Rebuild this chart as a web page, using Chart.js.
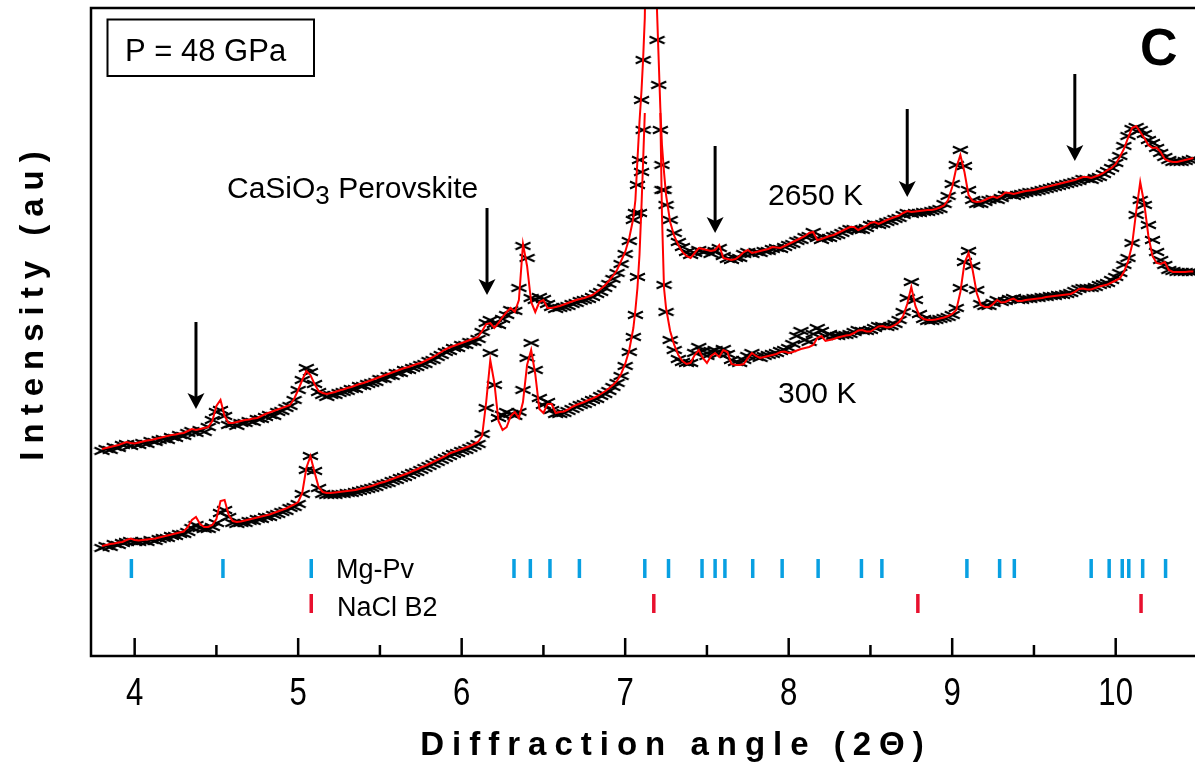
<!DOCTYPE html>
<html>
<head>
<meta charset="utf-8">
<title>XRD pattern, P = 48 GPa</title>
<style>
  html, body { margin: 0; padding: 0; background: #fff; overflow: hidden; }
  #wrap { width: 1195px; height: 763px; position: relative; }
  #xrd { display: block; }
</style>
</head>
<body>
<div id="wrap"><canvas id="xrd"></canvas></div>
<script src="https://cdn.jsdelivr.net/npm/chart.js@4.4.1/dist/chart.umd.min.js"></script>
<script>
// scan angles (2 theta, degrees), denser across the main peak
const twoTheta = [
  3.8, 3.825, 3.85, 3.875, 3.9, 3.925, 3.95, 3.975, 4, 4.025,
  4.05, 4.075, 4.1, 4.125, 4.15, 4.175, 4.2, 4.225, 4.25, 4.275,
  4.3, 4.325, 4.35, 4.375, 4.4, 4.425, 4.45, 4.475, 4.5, 4.525,
  4.55, 4.575, 4.6, 4.625, 4.65, 4.675, 4.7, 4.725, 4.75, 4.775,
  4.8, 4.825, 4.85, 4.875, 4.9, 4.925, 4.95, 4.975, 5, 5.025,
  5.05, 5.075, 5.1, 5.125, 5.15, 5.175, 5.2, 5.225, 5.25, 5.275,
  5.3, 5.325, 5.35, 5.375, 5.4, 5.425, 5.45, 5.475, 5.5, 5.525,
  5.55, 5.575, 5.6, 5.625, 5.65, 5.675, 5.7, 5.725, 5.75, 5.775,
  5.8, 5.825, 5.85, 5.875, 5.9, 5.925, 5.95, 5.975, 6, 6.025,
  6.05, 6.075, 6.1, 6.125, 6.15, 6.175, 6.2, 6.225, 6.25, 6.275,
  6.3, 6.325, 6.35, 6.375, 6.4, 6.425, 6.45, 6.475, 6.5, 6.525,
  6.55, 6.575, 6.6, 6.625, 6.65, 6.675, 6.7, 6.725, 6.75, 6.775,
  6.8, 6.825, 6.85, 6.875, 6.9, 6.925, 6.95, 6.975, 7, 7.025,
  7.05,
  7.0625, 7.075, 7.0875, 7.1, 7.11, 7.12, 7.135, 7.15, 7.165, 7.18, 7.195, 7.205, 7.215, 7.225, 7.2375, 7.25,
  7.275, 7.3, 7.325, 7.35, 7.375, 7.4, 7.425, 7.45, 7.475, 7.5,
  7.525, 7.55, 7.575, 7.6, 7.625, 7.65, 7.675, 7.7, 7.725, 7.75,
  7.775, 7.8, 7.825, 7.85, 7.875, 7.9, 7.925, 7.95, 7.975, 8,
  8.025, 8.05, 8.075, 8.1, 8.125, 8.15, 8.175, 8.2, 8.225, 8.25,
  8.275, 8.3, 8.325, 8.35, 8.375, 8.4, 8.425, 8.45, 8.475, 8.5,
  8.525, 8.55, 8.575, 8.6, 8.625, 8.65, 8.675, 8.7, 8.725, 8.75,
  8.775, 8.8, 8.825, 8.85, 8.875, 8.9, 8.925, 8.95, 8.975, 9,
  9.025, 9.05, 9.075, 9.1, 9.125, 9.15, 9.175, 9.2, 9.225, 9.25,
  9.275, 9.3, 9.325, 9.35, 9.375, 9.4, 9.425, 9.45, 9.475, 9.5,
  9.525, 9.55, 9.575, 9.6, 9.625, 9.65, 9.675, 9.7, 9.725, 9.75,
  9.775, 9.8, 9.825, 9.85, 9.875, 9.9, 9.925, 9.95, 9.975, 10,
  10.025, 10.05, 10.075, 10.1, 10.125, 10.15, 10.175, 10.2, 10.225, 10.25,
  10.275, 10.3, 10.325, 10.35, 10.375, 10.4, 10.425, 10.45, 10.475
];

// 2650 K pattern (offset upwards), measured points and fitted profile
const obs2650 = [
  205, 207, 206, 209, 208, 211, 212, 210, 212, 211,
  213, 212, 215, 214, 216, 217, 216, 219, 218, 221,
  220, 223, 225, 223, 226, 224, 229, 236, 244, 246,
  240, 231, 232, 230, 233, 233, 235, 234, 237, 237,
  239, 241, 240, 244, 245, 248, 250, 256, 266, 276,
  288, 284, 272, 264, 261, 259, 261, 261, 263, 264,
  265, 267, 267, 270, 270, 272, 273, 274, 277, 277,
  280, 280, 283, 283, 286, 286, 288, 289, 291, 292,
  295, 296, 299, 301, 304, 305, 308, 308, 311, 311,
  314, 314, 317, 324, 333, 336, 332, 331, 337, 341,
  346, 345, 368, 410, 398, 358, 356, 359, 357, 352,
  349, 347, 348, 349, 350, 352, 353, 355, 356, 357,
  359, 362, 364, 368, 372, 377, 383, 392, 402, 415,
  436,
  443, 471, 496, 556, 596, 700, 850, 900, 900, 850, 616, 571, 526, 491, 466, 451,
  436, 423, 414, 409, 404, 401, 403, 406, 404, 405,
  402, 405, 408, 400, 397, 396, 398, 398, 402, 404,
  402, 404, 403, 405, 405, 407, 408, 407, 409, 411,
  412, 415, 416, 419, 420, 424, 418, 416, 418, 418,
  420, 421, 423, 425, 427, 427, 426, 426, 428, 431,
  432, 431, 432, 434, 435, 437, 438, 441, 443, 442,
  443, 443, 444, 444, 445, 446, 447, 452, 460, 472,
  491, 506, 490, 466, 456, 452, 452, 454, 456, 457,
  456, 458, 461, 461, 460, 461, 462, 463, 464, 464,
  465, 466, 467, 468, 469, 470, 471, 472, 473, 474,
  475, 477, 477, 476, 478, 479, 482, 485, 488, 493,
  500, 510, 520, 527, 529, 526, 522, 516, 513, 508,
  503, 499, 496, 494, 494, 494, 495, 496, 497
];
const fit2650 = [
  207, 208, 209, 210, 211, 212.5, 214, 213, 212.5, 213.5,
  214.5, 215.5, 216, 217, 218, 219, 220, 221, 221.5, 222.5,
  223, 225, 227, 226, 227, 228, 229, 235, 250, 256,
  240, 233, 233, 234, 235, 236, 236.5, 237.5, 238, 240,
  242, 243.5, 245, 246.5, 248, 249.5, 251, 257, 266, 276,
  285, 281, 272, 265, 263, 262, 263, 264, 265.5, 266.5,
  268, 269, 270.5, 272, 273, 274.5, 276, 277.5, 279, 280.5,
  282, 283.5, 285, 286.5, 288, 289, 290.5, 292, 293, 295,
  297, 299, 301.5, 304, 306.5, 308.5, 310, 311.5, 313, 314.5,
  316, 317.5, 319, 325, 332, 333, 328, 333, 339, 344,
  348, 344, 356, 412, 390, 354, 344, 354, 356, 348,
  348, 349, 350, 351.5, 353, 354.5, 356, 357, 358, 359.5,
  361, 364, 367, 370.5, 375, 380, 386, 395, 404, 418,
  438,
  456, 496, 534, 566, 598, 638, 806, 956, 956, 806, 644, 596, 548, 511, 484, 461,
  434, 420, 411, 404, 400, 398, 403, 408, 407, 406,
  405, 406, 411, 398, 397, 396, 397, 400, 404, 406,
  403, 404, 405, 406, 407, 409, 408.5, 408, 410, 412,
  414, 416, 418, 420, 423, 424, 416, 417, 418.5, 420,
  421, 423, 425, 427, 429, 429, 426, 428, 430, 433,
  434, 432, 434, 436, 437.5, 439, 440.5, 443, 445, 444,
  444.5, 445, 445.5, 446, 446, 447, 448.5, 450.5, 456, 469,
  488, 501, 484, 461, 455, 454, 454.5, 456, 458, 459.5,
  458, 460, 463.5, 463, 462, 463, 464, 465, 465.5, 466,
  467, 468, 469, 470, 471, 472, 473, 474, 475, 476,
  477.5, 479, 479, 478, 479.5, 481, 483, 486, 488, 492,
  499, 507, 518, 528, 530, 524, 518, 511, 508, 508.5,
  504, 497, 495, 494, 494, 495, 496, 497, 498
];

// 300 K pattern, measured points and fitted profile (main peak off scale)
const obs300 = [
  108, 110, 109, 112, 111, 113, 114, 115, 114, 114,
  115, 114, 116, 115, 117, 118, 118, 120, 120, 122,
  122, 124, 128, 131, 128, 127, 127, 129, 133, 143,
  146, 139, 133, 132, 133, 133, 135, 135, 137, 137,
  139, 139, 141, 142, 144, 145, 148, 149, 152, 162,
  186, 200, 185, 168, 162, 161, 161, 161, 162, 162,
  163, 163, 164, 165, 166, 167, 168, 169, 171, 172,
  173, 175, 176, 178, 179, 181, 183, 184, 186, 188,
  190, 192, 194, 196, 198, 200, 202, 203, 205, 206,
  208, 210, 212, 222, 248, 303, 271, 238, 241, 244,
  242, 240, 244, 266, 298, 313, 286, 258, 251, 254,
  246, 242, 242, 243, 245, 247, 249, 251, 252, 254,
  256, 257, 260, 262, 265, 269, 273, 280, 290, 304,
  319,
  341, 379, 443, 484, 526, null, null, null, null, null, null, null, null, 466, 371, 344,
  316, 306, 297, 294, 293, 293, 303, 309, 305, 300,
  305, 306, 302, 307, 302, 296, 294, 293, 296, 300,
  303, 299, 298, 300, 301, 302, 303, 305, 306, 308,
  312, 320, 325, 316, 314, 322, 328, 325, 320, 322,
  320, 320, 321, 321, 322, 324, 326, 325, 325, 326,
  328, 330, 330, 329, 330, 332, 336, 344, 358, 374,
  356, 342, 337, 335, 335, 336, 337, 338, 339, 341,
  348, 368, 394, 405, 390, 366, 352, 350, 350, 353,
  356, 354, 355, 357, 358, 356, 356, 357, 357, 358,
  358, 359, 359, 360, 360, 361, 361, 362, 363, 365,
  367, 368, 368, 368, 369, 371, 372, 373, 376, 379,
  383, 391, 398, 413, 441, 456, 451, 431, 416, 404,
  396, 391, 386, 385, 384, 384, 384, 384, 384
];
const fit300 = [
  110, 111, 112, 112.5, 113.5, 114, 116, 117.5, 116, 115.5,
  116, 116.5, 117, 117.5, 118.5, 119.5, 120.5, 121.5, 122.5, 123.5,
  124.5, 129, 136, 139, 132, 129, 129, 131, 137, 155,
  156, 141, 135, 134, 134.5, 135.5, 136.5, 137.5, 138.5, 139.5,
  140.5, 141.5, 143, 144.5, 146, 147.5, 149.5, 151.5, 154, 163,
  188, 200, 184, 169, 164, 163, 163, 163.5, 164, 164.5,
  165, 165.5, 166, 167, 168, 169, 170, 171.5, 173, 174,
  175.5, 177, 178.5, 180, 181.5, 183, 185, 186.5, 188.5, 190,
  192, 194, 196, 198, 200, 202.5, 204, 205.5, 207, 208.5,
  210, 212, 214, 220, 254, 296, 273, 235, 226, 229,
  240, 244, 238, 254, 291, 306, 282, 247, 243, 252,
  252, 243, 244, 244.5, 246.5, 249, 251, 252.5, 254, 256,
  257.5, 259.5, 262, 264.5, 267.5, 271, 275, 282, 292, 306,
  328,
  346, 368, 401, 451, 496, 543, null, null, null, null, null, null, 543, 441, 368, 348,
  325, 311, 301, 295, 292, 293, 301, 306, 298, 293,
  300, 303, 299, 306, 304, 292, 291, 291, 292, 298,
  303, 300, 298, 299, 300, 301, 302, 304, 304.5, 303,
  304, 305.5, 307, 308, 309, 311, 318, 320, 315, 316,
  317, 318.5, 319.5, 320.5, 321, 323, 325.5, 326, 324.5, 324.5,
  327, 329.5, 330, 328.5, 329, 331, 334, 340, 352, 369,
  350, 340, 337, 336, 336, 336.5, 337.5, 338.5, 340, 342,
  346, 364, 393, 403, 386, 363, 351, 349, 349, 352,
  356, 353.5, 354, 356, 357.5, 355, 355, 356, 356.5, 357,
  357.5, 358, 359, 359.5, 360, 360.5, 361, 361.5, 362, 364,
  367, 367.5, 366.5, 366.5, 368, 369.5, 370.5, 371.5, 373.5, 375.5,
  377.5, 384, 394, 411, 444, 474, 452, 420, 400, 393,
  392, 394, 386, 384, 384, 384, 384, 384.5, 384.5
];

// calculated reflection positions
const mgPvPeaks = [3.98, 4.54, 5.08, 6.32, 6.42, 6.54, 6.72, 7.12, 7.265, 7.47, 7.55, 7.61, 7.78, 7.96,
  8.18, 8.445, 8.57, 9.09, 9.29, 9.38, 9.85, 9.96, 10.04, 10.08, 10.165, 10.305];
const naclPeaks = [5.08, 7.175, 8.79, 10.155];
const mgPvLevel = 87.5;
const naclLevel = 52.5;

// arrows marking CaSiO3 perovskite lines
const arrowAngles = [4.375, 6.155, 7.55, 8.725, 9.75];
const arrowTops = [334, 448, 510, 547, 582];
const arrowTips = [247, 361, 423, 459, 495];

const angleTicks = [4, 5, 6, 7, 8, 9, 10];

if (twoTheta.length !== obs2650.length || twoTheta.length !== fit300.length) {
  console.warn('length mismatch', twoTheta.length, obs2650.length, fit2650.length, obs300.length, fit300.length);
}

const FONT = '"Liberation Sans", Arial, Helvetica, sans-serif';
Chart.defaults.font.family = FONT;

// wide x marker used for the measured points
const crossMark = document.createElement('canvas');
crossMark.width = 17;
crossMark.height = 10;
(function () {
  const c = crossMark.getContext('2d');
  c.strokeStyle = '#000';
  c.lineWidth = 2;
  c.beginPath();
  c.moveTo(1, 1.5); c.lineTo(16, 8.5);
  c.moveTo(1, 8.5); c.lineTo(16, 1.5);
  c.stroke();
})();

const toPoints = ys => twoTheta.map((x, i) => ({ x: x, y: ys[i] }));

function spacedText(ctx, text, cx, y, spacing) {
  ctx.letterSpacing = spacing + 'px';
  const w = ctx.measureText(text).width;
  ctx.textAlign = 'left';
  ctx.fillText(text, cx - (w - spacing) / 2, y);
  ctx.letterSpacing = '0px';
}

const decor = {
  id: 'decor',
  afterDatasetsDraw(chart) {
    const { ctx, scales: { x, y } } = chart;
    ctx.save();
    ctx.strokeStyle = '#000';
    ctx.fillStyle = '#000';
    ctx.lineWidth = 3;
    arrowAngles.forEach((ang, i) => {
      const px = x.getPixelForValue(ang);
      const top = y.getPixelForValue(arrowTops[i]);
      const tip = y.getPixelForValue(arrowTips[i]);
      ctx.beginPath();
      ctx.moveTo(px, top);
      ctx.lineTo(px, tip - 10);
      ctx.stroke();
      ctx.beginPath();
      ctx.moveTo(px, tip);
      ctx.lineTo(px - 8.5, tip - 16);
      ctx.lineTo(px, tip - 12);
      ctx.lineTo(px + 8.5, tip - 16);
      ctx.closePath();
      ctx.fill();
    });
    ctx.restore();
  },
  afterDraw(chart) {
    const { ctx, chartArea: a, scales: { x } } = chart;
    ctx.save();
    ctx.strokeStyle = '#000';
    ctx.fillStyle = '#000';

    // frame: top, left and bottom
    ctx.lineWidth = 2.5;
    ctx.beginPath();
    ctx.moveTo(a.right, a.top);
    ctx.lineTo(a.left, a.top);
    ctx.lineTo(a.left, a.bottom);
    ctx.lineTo(a.right, a.bottom);
    ctx.stroke();

    // inward ticks, major at integers and minor half way
    const majors = x.ticks.map(t => t.value);
    ctx.beginPath();
    majors.forEach((v, i) => {
      const px = x.getPixelForValue(v);
      ctx.moveTo(px, a.bottom);
      ctx.lineTo(px, a.bottom - 18);
      if (i > 0) {
        const mx = x.getPixelForValue((v + majors[i - 1]) / 2);
        ctx.moveTo(mx, a.bottom);
        ctx.lineTo(mx, a.bottom - 11);
      }
    });
    ctx.stroke();

    // tick labels in a narrow face
    ctx.font = '38px ' + FONT;
    ctx.textAlign = 'center';
    ctx.textBaseline = 'alphabetic';
    x.ticks.forEach(t => {
      ctx.save();
      ctx.translate(x.getPixelForValue(t.value), 705);
      ctx.scale(0.82, 1);
      ctx.fillText(String(t.value), 0, 0);
      ctx.restore();
    });

    // axis titles
    ctx.font = 'bold 33px ' + FONT;
    spacedText(ctx, 'Diffraction angle (2\u0398)', 672, 755, 8);
    ctx.save();
    ctx.translate(43, 306);
    ctx.rotate(-Math.PI / 2);
    spacedText(ctx, 'Intensity (au)', 0, 0, 8);
    ctx.restore();

    // pressure box and panel letter
    ctx.textAlign = 'left';
    ctx.lineWidth = 2;
    ctx.strokeRect(107.5, 19.5, 206.5, 56.5);
    ctx.font = '31px ' + FONT;
    ctx.fillText('P = 48 GPa', 125, 61);
    ctx.font = 'bold 52px ' + FONT;
    ctx.fillText('C', 1140, 65);

    // curve labels
    ctx.font = '30px ' + FONT;
    ctx.fillText('2650 K', 768, 205);
    ctx.fillText('300 K', 778, 403);
    let cx = 227;
    ctx.fillText('CaSiO', cx, 198);
    cx += ctx.measureText('CaSiO').width;
    ctx.font = '26px ' + FONT;
    ctx.fillText('3', cx, 204);
    cx += ctx.measureText('3').width;
    ctx.font = '30px ' + FONT;
    ctx.fillText(' Perovskite', cx, 198);

    ctx.font = '27px ' + FONT;
    ctx.fillText('Mg-Pv', 336, 578);
    ctx.fillText('NaCl B2', 337, 616);
    ctx.restore();
  }
};

new Chart(document.getElementById('xrd'), {
  type: 'scatter',
  data: {
    datasets: [
      {
        label: '2650 K fit',
        data: toPoints(fit2650),
        showLine: true,
        borderColor: '#ff0000',
        borderWidth: 2,
        pointRadius: 0,
        spanGaps: false,
        clip: 0,
        order: 0
      },
      {
        label: '300 K fit',
        data: toPoints(fit300),
        showLine: true,
        borderColor: '#ff0000',
        borderWidth: 2,
        pointRadius: 0,
        spanGaps: false,
        clip: 0,
        order: 1
      },
      {
        label: '2650 K data',
        data: toPoints(obs2650),
        showLine: false,
        pointStyle: crossMark,
        pointRadius: 4,
        clip: 0,
        order: 2
      },
      {
        label: '300 K data',
        data: toPoints(obs300),
        showLine: false,
        pointStyle: crossMark,
        pointRadius: 4,
        clip: 0,
        order: 3
      },
      {
        label: 'Mg-Pv',
        data: mgPvPeaks.map(v => ({ x: v, y: mgPvLevel })),
        showLine: false,
        pointStyle: 'line',
        pointRotation: 90,
        pointRadius: 9.5,
        pointBorderWidth: 3.5,
        pointBorderColor: '#08a0e2',
        order: 4
      },
      {
        label: 'NaCl B2',
        data: naclPeaks.map(v => ({ x: v, y: naclLevel })),
        showLine: false,
        pointStyle: 'line',
        pointRotation: 90,
        pointRadius: 9.5,
        pointBorderWidth: 3.5,
        pointBorderColor: '#e8102e',
        order: 4
      }
    ]
  },
  options: {
    responsive: true,
    maintainAspectRatio: false,
    animation: false,
    devicePixelRatio: 1,
    events: [],
    layout: { autoPadding: false, padding: { left: 91, top: 8, right: 0, bottom: 0 } },
    plugins: {
      legend: { display: false },
      tooltip: { enabled: false }
    },
    scales: {
      x: {
        type: 'linear',
        min: 3.733,
        max: 10.485,
        grid: { display: false, drawTicks: false },
        border: { display: false },
        ticks: { display: false },
        afterBuildTicks: s => { s.ticks = angleTicks.map(v => ({ value: v })); },
        afterFit: s => { s.height = 107; }
      },
      y: {
        type: 'linear',
        display: false,
        min: 0,
        max: 648
      }
    }
  },
  plugins: [decor]
});
</script>
</body>
</html>
